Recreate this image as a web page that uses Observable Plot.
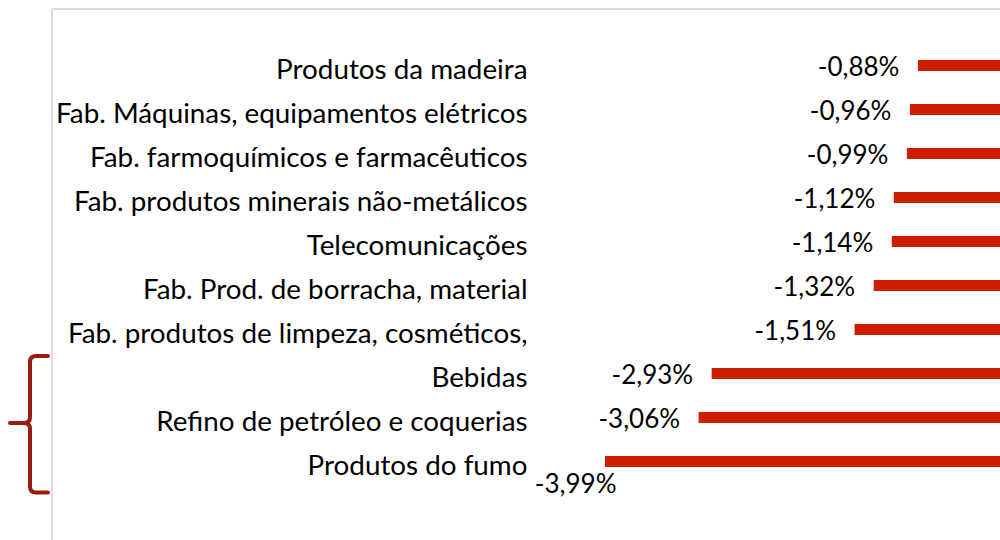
<!DOCTYPE html>
<html>
<head>
<meta charset="utf-8">
<script src="https://cdn.jsdelivr.net/npm/d3@7"></script>
<script src="https://cdn.jsdelivr.net/npm/@observablehq/plot@0.6"></script>
<style>
  html, body { margin: 0; padding: 0; background: #fff; overflow: hidden; }
  #chart svg { display: block; }
</style>
</head>
<body>
<div id="chart"></div>
<script>
const categories = [
  "Produtos da madeira",
  "Fab. Máquinas, equipamentos elétricos",
  "Fab. farmoquímicos e farmacêuticos",
  "Fab. produtos minerais não-metálicos",
  "Telecomunicações",
  "Fab. Prod. de borracha, material",
  "Fab. produtos de limpeza, cosméticos,",
  "Bebidas",
  "Refino de petróleo e coquerias",
  "Produtos do fumo"
];
const values = [-0.88, -0.96, -0.99, -1.12, -1.14, -1.32, -1.51, -2.93, -3.06, -3.99];
const valueLabels = ["-0,88%", "-0,96%", "-0,99%", "-1,12%", "-1,14%", "-1,32%", "-1,51%", "-2,93%", "-3,06%", "-3,99%"];

const data = categories.map((c, i) => ({cat: c, value: values[i], label: valueLabels[i]}));
const minVal = d3.min(values);
const inline = data.filter(d => d.value !== minVal);
const below = data.filter(d => d.value === minVal);

const FONT = "Lato, 'Open Sans', sans-serif";
const FS_CAT = 27.8;
const FS_VAL = 26;

const chart = Plot.plot({
  width: 1000,
  height: 540,
  marginLeft: 527,
  marginRight: 0,
  marginTop: 0,
  marginBottom: 0,
  style: {fontFamily: FONT, fontSize: FS_VAL + "px", color: "#000", background: "#fff"},
  x: {domain: [minVal, 0], range: [605, 1006.5], axis: null},
  y: {domain: categories, range: [26.5, 499.5], padding: 0.75, label: null},
  marks: [
    Plot.barX(data, {x1: 0, x2: "value", y: "cat", fill: "#cc1f00"}),
    Plot.axisY({anchor: "left", tickSize: 0, tickPadding: 0, fontSize: FS_CAT, dy: 4, label: null, fill: "#000"}),
    Plot.text(inline, {x: "value", y: "cat", text: "label", textAnchor: "end", dx: -19, dy: 2, fontSize: FS_VAL, fill: "#000"}),
    Plot.text(below, {x: "value", y: "cat", text: "label", textAnchor: "end", dx: 11, dy: 23, fontSize: FS_VAL, fill: "#000"})
  ]
});

document.getElementById("chart").appendChild(chart);

// frame lines (top and left)
const svg = d3.select(chart);
svg.append("line").attr("x1", 52).attr("x2", 1000).attr("y1", 9).attr("y2", 9)
  .attr("stroke", "#dcdcdc").attr("stroke-width", 2);
svg.append("line").attr("x1", 52).attr("x2", 52).attr("y1", 9).attr("y2", 540)
  .attr("stroke", "#dcdcdc").attr("stroke-width", 2);

// bracket grouping the last three categories
const ys = chart.scale("y");
const bw = ys.bandwidth;
const center = c => ys.apply(c) + bw / 2;
const yTop = center(categories[7]) - 17.5;
const yMid = center(categories[8]) + 5.5;
const yBot = center(categories[9]) + 31;
const xr = 48, xv = 30, xl = 10, r = 6;
const path = [
  `M${xr},${yTop} L${xv + r},${yTop} Q${xv},${yTop} ${xv},${yTop + r}`,
  `L${xv},${yMid - r} Q${xv},${yMid} ${xv - r},${yMid} L${xl},${yMid}`,
  `M${xv - r},${yMid} Q${xv},${yMid} ${xv},${yMid + r}`,
  `L${xv},${yBot - r} Q${xv},${yBot} ${xv + r},${yBot} L${xr},${yBot}`
].join(" ");
svg.append("path").attr("d", path).attr("fill", "none")
  .attr("stroke", "#9b1b10").attr("stroke-width", 4).attr("stroke-linecap", "round").attr("stroke-linejoin", "round");
</script>
</body>
</html>
